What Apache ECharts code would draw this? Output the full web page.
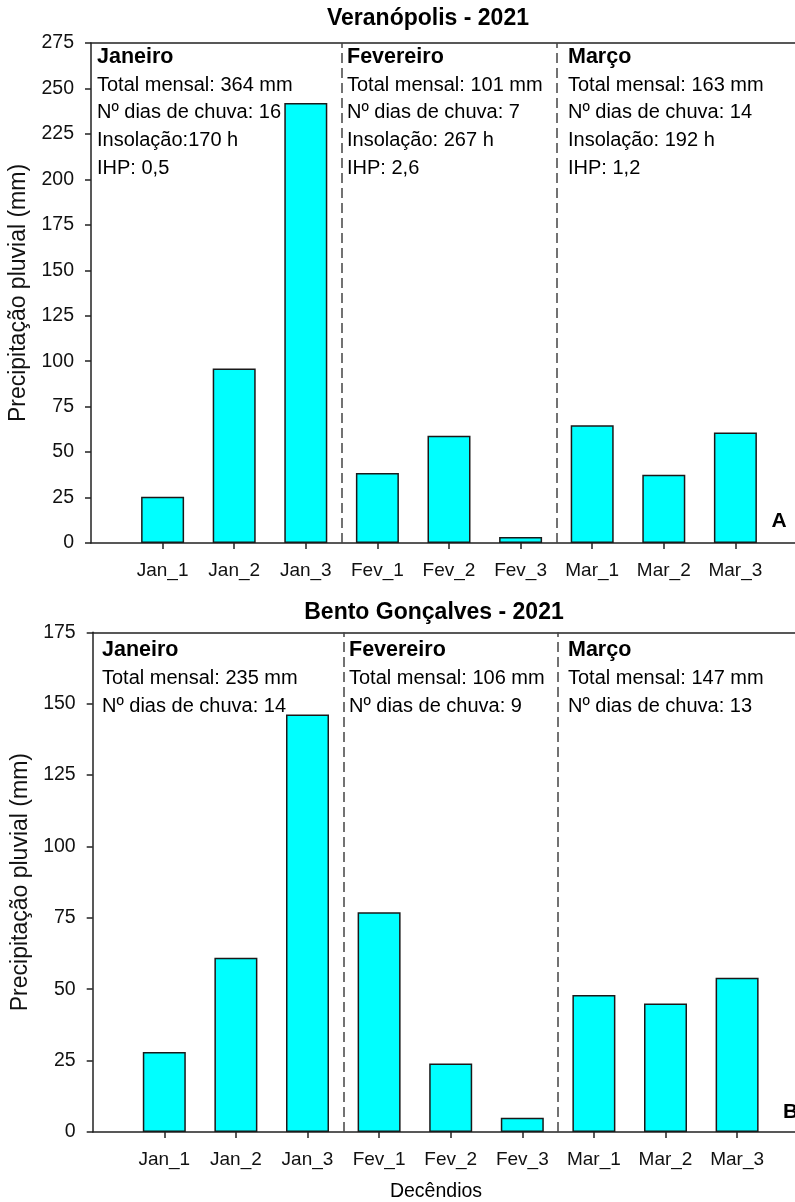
<!DOCTYPE html>
<html>
<head>
<meta charset="utf-8">
<script src="https://cdn.jsdelivr.net/npm/echarts@6/dist/echarts.min.js"></script>
<style>
html,body{margin:0;padding:0;background:#fff;}
#chart{width:795px;height:1202px;}
</style>
</head>
<body>
<div id="chart"></div>
<script>
// ---- data ----
const categories = ['Jan_1','Jan_2','Jan_3','Fev_1','Fev_2','Fev_3','Mar_1','Mar_2','Mar_3'];
const veranopolisRain = [25.5, 96, 242, 38.5, 59, 3.3, 64.8, 37.5, 60.8];
const bentoRain = [28, 61, 146.2, 77, 24, 5, 48, 45, 54];
const verYTicks = {min: 0, max: 275, step: 25};
const bentoYTicks = {min: 0, max: 175, step: 25};
const monthBreaks = [3.5, 6.5];
const titleA = 'Veranópolis - 2021';
const titleB = 'Bento Gonçalves - 2021';
const monthNames = ['Janeiro', 'Fevereiro', 'Março'];
const verInfo = [
  ['Total mensal: 364 mm', 'Nº dias de chuva: 16', 'Insolação:170 h', 'IHP: 0,5'],
  ['Total mensal: 101 mm', 'Nº dias de chuva: 7', 'Insolação: 267 h', 'IHP: 2,6'],
  ['Total mensal: 163 mm', 'Nº dias de chuva: 14', 'Insolação: 192 h', 'IHP: 1,2']
];
const bentoInfo = [
  ['Total mensal: 235 mm', 'Nº dias de chuva: 14'],
  ['Total mensal: 106 mm', 'Nº dias de chuva: 9'],
  ['Total mensal: 147 mm', 'Nº dias de chuva: 13']
];
const yTitle = 'Precipitação pluvial (mm)';
const xTitle = 'Decêndios';

// ---- chart ----
const FONT = '"Liberation Sans", Arial, sans-serif';
const chart = echarts.init(document.getElementById('chart'));
const tickIdx = categories.map((_, i) => i + 1);

function xAxisBottom(gridIndex) {
  return {
    type: 'value', gridIndex, min: 0, max: categories.length + 1, position: 'bottom',
    axisLine: {show: true, onZero: false, lineStyle: {color: '#222', width: 1.5}},
    axisTick: {show: true, customValues: tickIdx, length: 6, lineStyle: {color: '#222', width: 1.5}},
    axisLabel: {show: true, customValues: tickIdx, margin: 18, fontFamily: FONT, fontSize: 19, color: '#111',
      formatter: v => categories[Math.round(v) - 1] || ''},
    splitLine: {show: false}
  };
}
function xAxisTop(gridIndex) {
  return {
    type: 'value', gridIndex, min: 0, max: categories.length + 1, position: 'top',
    axisLine: {show: true, onZero: false, lineStyle: {color: '#222', width: 1.5}},
    axisTick: {show: false}, axisLabel: {show: false}, splitLine: {show: false}
  };
}
function yAxis(gridIndex, t) {
  return {
    type: 'value', gridIndex, min: t.min, max: t.max, interval: t.step,
    name: yTitle, nameLocation: 'middle', nameGap: 58, nameRotate: 90,
    nameTextStyle: {fontFamily: FONT, fontSize: 23, color: '#111'},
    axisLine: {show: true, lineStyle: {color: '#222', width: 1.5}},
    axisTick: {show: true, length: 6, lineStyle: {color: '#222', width: 1.5}},
    axisLabel: {margin: 17, fontFamily: FONT, fontSize: 19.5, color: '#111'},
    splitLine: {show: false}
  };
}
function barSeries(idx, values) {
  return {
    type: 'bar', xAxisIndex: idx * 2, yAxisIndex: idx,
    data: values.map((v, i) => [i + 1, v]),
    barWidth: 43,
    itemStyle: {color: '#00FFFF', borderColor: '#1a1a1a', borderWidth: 1.5},
    silent: true,
    markLine: {
      silent: true, symbol: ['none', 'none'], label: {show: false},
      lineStyle: {color: '#444', width: 1.5, type: [10, 5]},
      data: monthBreaks.map(b => ({xAxis: b}))
    }
  };
}

const graphics = [];
function addText(x, y, text, size, bold, align) {
  graphics.push({type: 'text', x, y, silent: true, style: {
    text, fontFamily: FONT, fontSize: size, fontWeight: bold ? 'bold' : 'normal',
    fill: '#000', textAlign: align || 'left', textVerticalAlign: 'middle'}});
}
addText(428, 19, titleA, 23, true, 'center');
addText(434, 613, titleB, 23, true, 'center');
const colXA = [97, 347, 568];
const colXB = [102, 349, 568];
monthNames.forEach((m, i) => {
  addText(colXA[i], 57, m, 21.5, true);
  verInfo[i].forEach((t, j) => addText(colXA[i], 85 + j * 27.7, t, 20, false));
  addText(colXB[i], 650, m, 21.5, true);
  bentoInfo[i].forEach((t, j) => addText(colXB[i], 678.5 + j * 28.3, t, 20, false));
});
addText(779, 521, 'A', 21, true, 'center');
addText(783, 1112, 'B', 21, true, 'left');
addText(436, 1192, xTitle, 19.5, false, 'center');

chart.setOption({
  animation: false,
  backgroundColor: '#fff',
  grid: [
    {left: 91, top: 43, width: 716, height: 500, outerBoundsMode: 'none', containLabel: false},
    {left: 92.7, top: 632.3, width: 716, height: 499.7, outerBoundsMode: 'none', containLabel: false}
  ],
  xAxis: [xAxisBottom(0), xAxisTop(0), xAxisBottom(1), xAxisTop(1)],
  yAxis: [yAxis(0, verYTicks), yAxis(1, bentoYTicks)],
  series: [barSeries(0, veranopolisRain), barSeries(1, bentoRain)],
  graphic: graphics
});
</script>
</body>
</html>
